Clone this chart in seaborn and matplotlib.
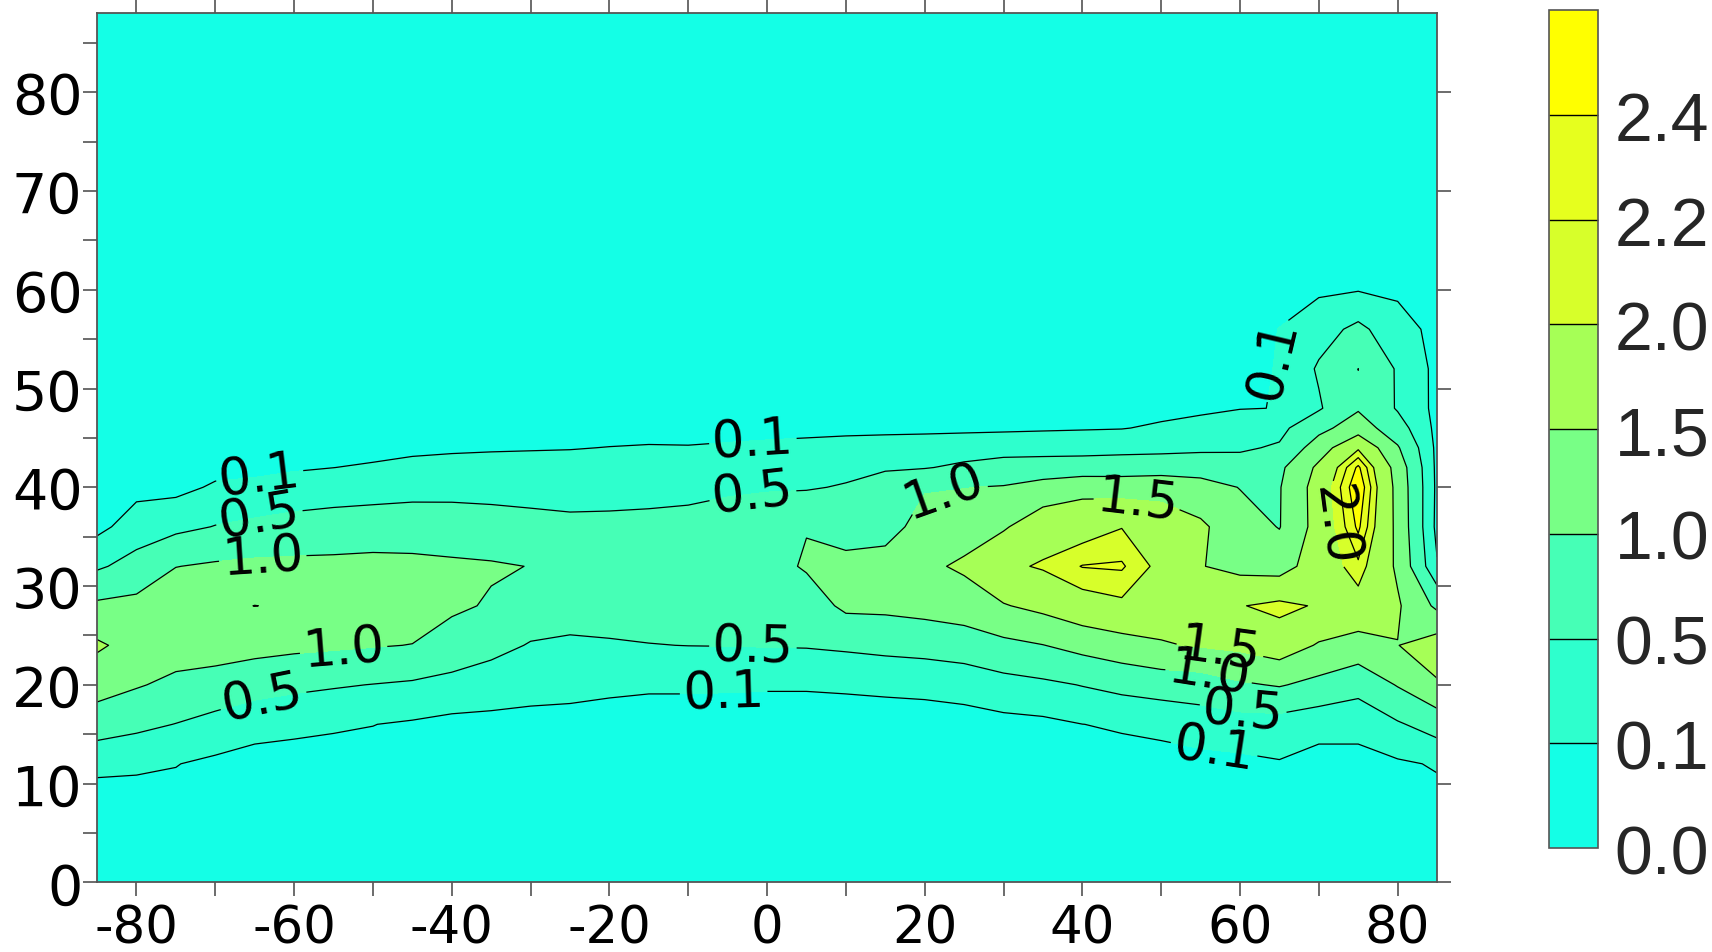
import numpy as np
import matplotlib
matplotlib.use("Agg")
import matplotlib.pyplot as plt
import seaborn as sns

# ---- grid coordinates -------------------------------------------------
lat = [-85, -80, -75, -70, -65, -60, -55, -50, -45, -40, -35, -30, -25, -20,
       -15, -10, -5, 0, 5, 10, 15, 20, 25, 30, 35, 40, 45, 50, 55, 60, 65,
       70, 75, 80, 85]
alt = [0, 8, 12, 16, 20, 24, 28, 32, 36, 40, 42, 44, 46, 48, 52, 56, 60, 64, 88]

# ---- field values, one list per altitude row (columns follow `lat`) ----
z00 = [0, 0, 0, 0, 0, 0, 0, 0, 0, 0, 0, 0, 0, 0, 0, 0, 0, 0, 0, 0, 0, 0, 0, 0,
       0, 0, 0, 0, 0, 0, 0, 0, 0, 0, 0]
z08 = [0, 0, 0, 0, 0, 0, 0, 0, 0, 0, 0, 0, 0, 0, 0, 0, 0, 0, 0, 0, 0, 0, 0, 0,
       0, 0, 0, 0, 0, 0, 0, 0, 0, 0, 0]
z12 = [0.154, 0.14, 0.11, 0.03, 0, 0, 0, 0, 0, 0, 0, 0, 0, 0, 0, 0, 0, 0, 0,
       0, 0, 0, 0, 0, 0, 0, 0, 0, 0, 0.026, 0.076, 0, 0, 0.05, 0.13]
z16 = [0.74, 0.605, 0.49, 0.35, 0.2, 0.16, 0.13, 0.105, 0.06, 0, 0, 0, 0, 0,
       0, 0, 0, 0, 0, 0, 0, 0, 0, 0, 0.022, 0.098, 0.13, 0.17, 0.26, 0.3, 0.3,
       0.2, 0.2, 0.45, 0.696]
z20 = [1.2, 1.04, 0.89, 0.8, 0.69, 0.6, 0.54, 0.49, 0.44, 0.376, 0.29, 0.217,
       0.19, 0.15, 0.13, 0.13, 0.125, 0.12, 0.12, 0.13, 0.145, 0.16, 0.2, 0.338,
       0.414, 0.516, 0.625, 0.707, 0.75, 0.94, 1.036, 0.864, 0.66, 1.03, 1.45]
z24 = [1.57, 1.33, 1.22, 1.22, 1.16, 1.11, 1.07, 1.03, 0.99, 0.765, 0.625,
       0.474, 0.435, 0.46, 0.49, 0.505, 0.51, 0.52, 0.53, 0.573, 0.63, 0.676,
       0.758, 0.883, 0.99, 1.155, 1.31, 1.46, 1.54, 1.61, 1.77, 1.456, 1.31,
       1.49, 1.75]
z28 = [1.09, 1.14, 1.36, 1.39, 1.505, 1.45, 1.4, 1.285, 1.24, 1.09, 0.95, 0.73,
       0.68, 0.686, 0.67, 0.673, 0.687, 0.706, 0.75, 1.1, 1.11, 1.17, 1.24, 1.47,
       1.63, 1.85, 1.94, 1.75, 1.9, 1.98, 2.1, 1.96, 1.85, 1.56, 0.9]
z32 = [0.435, 0.667, 0.99, 1.065, 1.11, 1.12, 1.12, 1.14, 1.12, 1.08, 1.05,
       0.99, 0.87, 0.80, 0.76, 0.76, 0.78, 0.83, 1.05, 1.11, 1.16, 1.40, 1.58,
       1.92, 2.04, 2.21, 2.23, 1.91, 1.52, 1.36, 1.3, 1.75, 2.15, 1.42, 0.13]
z36 = [0, 0.271, 0.39, 0.515, 0.59, 0.66, 0.71, 0.74, 0.75, 0.73, 0.685, 0.64,
       0.595, 0.593, 0.595, 0.608, 0.625, 0.644, 0.98, 0.836, 0.85, 1.15, 1.27,
       1.448, 1.8, 1.85, 1.99, 1.75, 1.58, 1.22, 0.98, 1.7, 2.45, 1.38, 0]
z40 = [0, 0, 0, 0.145, 0.19, 0.245, 0.28, 0.31, 0.35, 0.36, 0.357, 0.343, 0.34,
       0.36, 0.387, 0.411, 0.46, 0.48, 0.46, 0.537, 0.76, 0.97, 0.99, 1.03, 1.2,
       1.35, 1.3, 1.35, 1.2, 0.985, 0.97, 1.72, 2.6, 1.35, 0.02]
z42 = [0, 0, 0, 0, 0.01, 0.064, 0.098, 0.136, 0.19, 0.21, 0.214, 0.211, 0.21,
       0.233, 0.253, 0.263, 0.3, 0.31, 0.326, 0.372, 0.44, 0.475, 0.583, 0.673,
       0.696, 0.714, 0.75, 0.763, 0.775, 0.69, 0.9, 1.6, 2.45, 1.3, 0.01]
z44 = [0, 0, 0, 0, 0, 0, 0, 0, 0.03, 0.054, 0.07, 0.08, 0.088, 0.106, 0.12,
       0.115, 0.138, 0.16, 0.175, 0.202, 0.233, 0.26, 0.294, 0.337, 0.343,
       0.348, 0.362, 0.382, 0.414, 0.443, 0.55, 1.26, 1.95, 1.05, 0.01]
z46 = [0, 0, 0, 0, 0, 0, 0, 0, 0, 0, 0, 0, 0, 0, 0, 0, 0, 0.01, 0.025, 0.032,
       0.03, 0.03, 0.035, 0.04, 0.057, 0.072, 0.086, 0.147, 0.224, 0.28, 0.38,
       0.853, 1.26, 0.7, 0]
z48 = [0, 0, 0, 0, 0, 0, 0, 0, 0, 0, 0, 0, 0, 0, 0, 0, 0, 0, 0, 0, 0, 0, 0, 0,
       0, 0, 0, 0, 0.033, 0.09, 0.105, 0.45, 0.95, 0.46, 0]
z52 = [0, 0, 0, 0, 0, 0, 0, 0, 0, 0, 0, 0, 0, 0, 0, 0, 0, 0, 0, 0, 0, 0, 0, 0,
       0, 0, 0, 0, 0, 0, 0.12, 0.55, 1.002, 0.45, 0]
z56 = [0, 0, 0, 0, 0, 0, 0, 0, 0, 0, 0, 0, 0, 0, 0, 0, 0, 0, 0, 0, 0, 0, 0, 0,
       0, 0, 0, 0, 0, 0, 0.105, 0.333, 0.6, 0.244, 0]
z60 = [0, 0, 0, 0, 0, 0, 0, 0, 0, 0, 0, 0, 0, 0, 0, 0, 0, 0, 0, 0, 0, 0, 0, 0,
       0, 0, 0, 0, 0, 0, 0.01, 0.042, 0.08, 0.04, 0]
z64 = [0, 0, 0, 0, 0, 0, 0, 0, 0, 0, 0, 0, 0, 0, 0, 0, 0, 0, 0, 0, 0, 0, 0, 0,
       0, 0, 0, 0, 0, 0, 0, 0, 0, 0, 0]
z88 = [0, 0, 0, 0, 0, 0, 0, 0, 0, 0, 0, 0, 0, 0, 0, 0, 0, 0, 0, 0, 0, 0, 0, 0,
       0, 0, 0, 0, 0, 0, 0, 0, 0, 0, 0]

# ---- contour levels, colours and label anchors --------------------------
fill_levels = [0.0, 0.1, 0.5, 1.0, 1.5, 2.0, 2.2, 2.4, 2.6]
line_levels = [0.1, 0.5, 1.0, 1.5, 2.0, 2.2, 2.4]
cbar_ticks = [0.0, 0.1, 0.5, 1.0, 1.5, 2.0, 2.2, 2.4]
band_colors = ["#14FFE6", "#2EFFCD", "#46FFB6", "#78FF86",
               "#A6FF56", "#D7FF2A", "#E6FF1E", "#FFFF00"]
label_spots = [(-64.3, 40.8), (-64.3, 36.4), (-64.0, 33.1), (-53.7, 23.3),
               (-64.0, 18.9), (-1.8, 44.7), (-1.8, 39.2), (-1.8, 23.7),
               (-5.5, 19.0), (22.5, 39.5), (47.0, 38.9), (57.4, 23.1),
               (56.0, 20.9), (60.4, 17.8), (56.7, 13.4), (64.4, 53.0),
               (71.1, 36.2)]

# ---- style ---------------------------------------------------------------
sns.set_theme(style="ticks")
plt.rcParams["font.family"] = ["DejaVu Sans"]
plt.rcParams["axes.unicode_minus"] = False

fig = plt.figure(figsize=(17.12, 9.53), dpi=100)
ax = fig.add_axes([0.0567, 0.0731, 0.7827, 0.912])
cax = fig.add_axes([0.9048, 0.1091, 0.0286, 0.8793])

Z = np.array([z00, z08, z12, z16, z20, z24, z28, z32, z36, z40, z42, z44,
              z46, z48, z52, z56, z60, z64, z88])
palette = sns.color_palette(band_colors)

cf = ax.contourf(lat, alt, Z, levels=fill_levels, colors=palette)
cs = ax.contour(lat, alt, Z, levels=line_levels, colors="black",
                linewidths=0.9)
ax.clabel(cs, fmt="%.1f", fontsize=37, inline=True, inline_spacing=3,
          manual=label_spots)

ax.set_xlim(-85, 85)
ax.set_ylim(0, 88)
ax.set_xticks([-80, -60, -40, -20, 0, 20, 40, 60, 80])
ax.set_xticks([-70, -50, -30, -10, 10, 30, 50, 70], minor=True)
ax.set_yticks([0, 10, 20, 30, 40, 50, 60, 70, 80])
ax.set_yticks([5, 15, 25, 35, 45, 55, 65, 75, 85], minor=True)
ax.tick_params(which="both", direction="out", length=10, width=1.1,
               color="#444444", top=True, right=True, labelcolor="black")
ax.tick_params(which="minor", right=False)
ax.tick_params(axis="y", pad=0.5, labelsize=40)
ax.tick_params(axis="x", pad=5, labelsize=37)
for sp in ax.spines.values():
    sp.set_color("#555555")
    sp.set_linewidth(1.3)

cb = fig.colorbar(cf, cax=cax, ticks=cbar_ticks, drawedges=True)
cb.ax.set_yticklabels([f"{t:.1f}" for t in cbar_ticks],
                      family=["Liberation Sans", "DejaVu Sans"])
cb.ax.tick_params(length=0, labelsize=49, pad=12)
cb.outline.set_edgecolor("#555555")
cb.outline.set_linewidth(1.2)
cb.dividers.set_color("black")
cb.dividers.set_linewidth(1.0)

fig.savefig("out.png", dpi=100)
